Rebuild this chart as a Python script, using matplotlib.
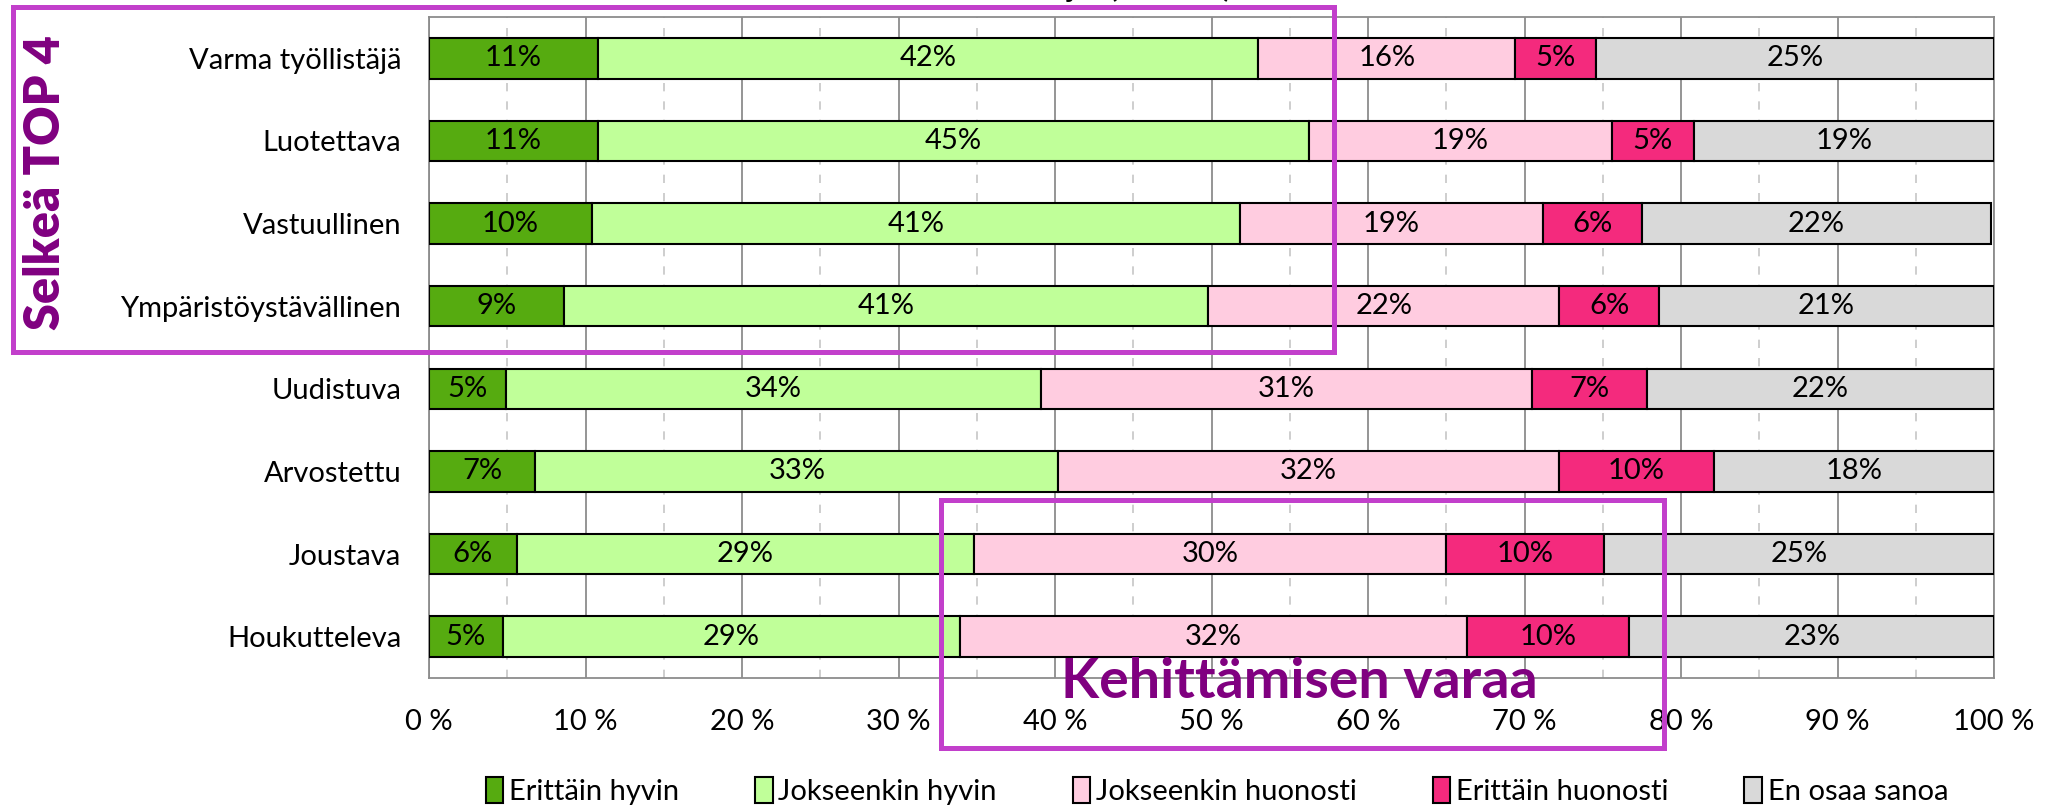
import matplotlib
matplotlib.use("Agg")
import matplotlib.pyplot as plt
from matplotlib.patches import Rectangle
import numpy as np

plt.rcParams['font.family'] = ['Lato', 'DejaVu Sans']

categories = ["Varma työllistäjä", "Luotettava", "Vastuullinen", "Ympäristöystävällinen",
              "Uudistuva", "Arvostettu", "Joustava", "Houkutteleva"]
series_names = ["Erittäin hyvin", "Jokseenkin hyvin", "Jokseenkin huonosti",
                "Erittäin huonosti", "En osaa sanoa"]
erittain_hyvin = [10.8, 10.8, 10.4, 8.6, 4.9, 6.8, 5.6, 4.7]
jokseenkin_hyvin = [42.2, 45.4, 41.4, 41.2, 34.2, 33.4, 29.2, 29.2]
jokseenkin_huonosti = [16.4, 19.4, 19.4, 22.4, 31.4, 32.0, 30.2, 32.4]
erittain_huonosti = [5.2, 5.2, 6.3, 6.4, 7.3, 9.9, 10.1, 10.4]
en_osaa_sanoa = [25.4, 19.2, 22.3, 21.4, 22.2, 17.9, 24.9, 23.3]
tick_labels = ["0 %", "10 %", "20 %", "30 %", "40 %", "50 %", "60 %", "70 %", "80 %", "90 %", "100 %"]
title_text = "Mielikuvatutkimus – kaikki vastaajat (n=1000)"
box1_text = "Selkeä TOP 4"
box2_text = "Kehittämisen varaa"

colors = ["#56AB10", "#C0FF99", "#FFCCE0", "#F42A7D", "#D9D9D9"]
series = [erittain_hyvin, jokseenkin_hyvin, jokseenkin_huonosti, erittain_huonosti, en_osaa_sanoa]

W, H = 2057, 805
fig = plt.figure(figsize=(W / 100, H / 100), dpi=100)
ax = fig.add_axes([429 / W, 1 - 678 / H, (1994 - 429) / W, (678 - 17) / H])

y = np.arange(len(categories))
left = np.zeros(len(categories))
FS = 21
for name, vals, col in zip(series_names, series, colors):
    vals = np.array(vals)
    bars = ax.barh(y, vals, left=left, height=0.49, color=col, edgecolor='black',
                   linewidth=1.5, label=name, zorder=3)
    for b, v in zip(bars, vals):
        ax.text(b.get_x() + b.get_width() / 2, b.get_y() + b.get_height() / 2,
                f"{int(round(v))}%", ha='center', va='center', fontsize=FS, color='black', zorder=4)
    left = left + vals

ax.set_xlim(0, 100)
ax.set_ylim(len(categories) - 0.5, -0.5)
ax.set_yticks(y)
ax.set_yticklabels(categories, fontsize=FS)
ax.set_xticks(np.arange(0, 101, 10))
ax.set_xticklabels(tick_labels, fontsize=FS)
ax.set_xticks(np.arange(5, 100, 10), minor=True)
ax.tick_params(axis='both', which='both', length=0)
ax.tick_params(axis='y', pad=20)
ax.tick_params(axis='x', pad=22)
ax.grid(True, axis='x', which='major', color='#8C8C8C', linewidth=1.3, zorder=0)
ax.grid(True, axis='x', which='minor', color='#C6C6C6', linewidth=1.2, linestyle=(0, (5, 6)), zorder=0)
ax.set_axisbelow(True)
for s in ax.spines.values():
    s.set_color('#8C8C8C')
    s.set_linewidth(1.3)

leg = fig.legend(loc='center', bbox_to_anchor=(1217 / W, 1 - 791 / H), ncol=5, frameon=False,
                 fontsize=FS, handlelength=0.6, handleheight=1.0, handletextpad=0.2,
                 columnspacing=2.6)
for h in leg.legend_handles:
    h.set_linewidth(1.5)

# title, clipped at the top edge as in the reference
fig.text(1232 / W, 1 + 3 / H, title_text, ha='right', va='baseline', fontsize=22,
         fontweight='bold', color='black')

purple = '#C23FCB'
fig.add_artist(Rectangle((13 / W, 1 - 352 / H), (1334 - 13) / W, (352 - 7) / H,
                         transform=fig.transFigure, fill=False, edgecolor=purple, linewidth=3.6))
fig.add_artist(Rectangle((941 / W, 1 - 748 / H), (1664 - 941) / W, (748 - 500) / H,
                         transform=fig.transFigure, fill=False, edgecolor=purple, linewidth=3.6))
fig.text(46 / W, 1 - 183 / H, box1_text, rotation=90, ha='center', va='center',
         fontsize=35, fontweight='heavy', color='#800080')
fig.text(1299 / W, 1 - 682 / H, box2_text, ha='center', va='center',
         fontsize=40, fontweight='bold', color='#800080')

fig.savefig("out.png", dpi=100)
